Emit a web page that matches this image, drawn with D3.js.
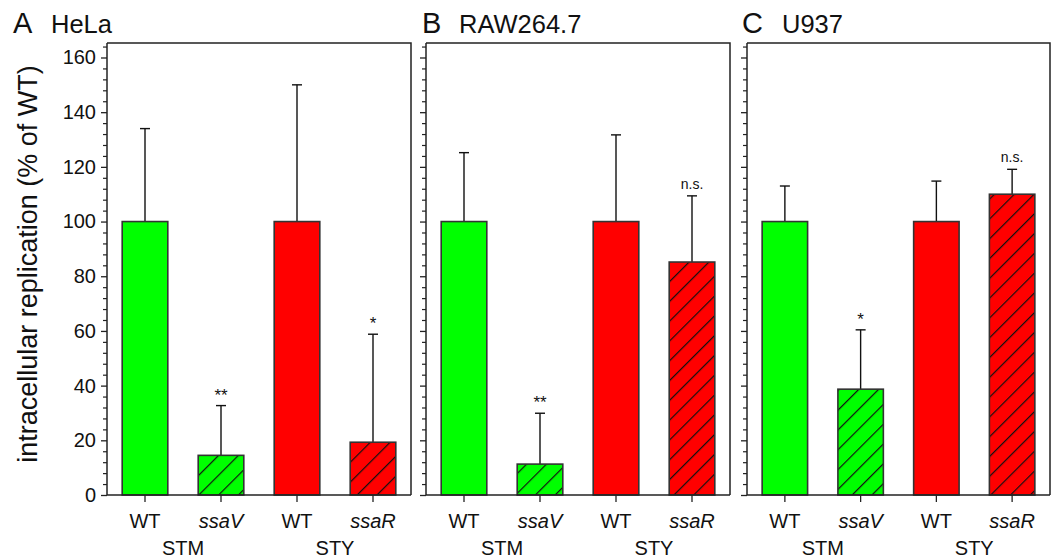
<!DOCTYPE html>
<html>
<head>
<meta charset="utf-8">
<script src="https://cdn.jsdelivr.net/npm/d3@7"></script>
<style>
  html, body { margin: 0; padding: 0; background: #fff; }
  svg { display: block; font-family: "Liberation Sans", Arial, sans-serif; }
</style>
</head>
<body>
<svg id="chart" width="1052" height="560"></svg>
<script>
// ---- data ----
const panelLetters = ["A", "B", "C"];
const panelNames = ["HeLa", "RAW264.7", "U937"];
const categories = ["WT", "ssaV", "WT", "ssaR"];
const italicCats = [false, true, false, true];
const hatched = [false, true, false, true];
const strains = ["STM", "STY"];
const barColors = ["#00ff00", "#00ff00", "#ff0000", "#ff0000"];
const helaMeans = [100, 14.5, 100, 19.3];
const helaErr = [34, 18.2, 50, 39.5];
const rawMeans = [100, 11.3, 100, 85.2];
const rawErr = [25.2, 18.6, 31.7, 24.2];
const u937Means = [100, 38.7, 100, 110];
const u937Err = [13, 21.7, 14.8, 9.1];
const helaSig = ["", "**", "", "*"];
const rawSig = ["", "**", "", "n.s."];
const u937Sig = ["", "*", "", "n.s."];
const yTicks = [0, 20, 40, 60, 80, 100, 120, 140, 160];
const yLabel = "intracellular replication (% of WT)";

const panelMeans = [helaMeans, rawMeans, u937Means];
const panelErrs = [helaErr, rawErr, u937Err];
const panelSigs = [helaSig, rawSig, u937Sig];

// ---- layout ----
const svg = d3.select("#chart");
const plotTop = 43, plotBottom = 495;
const panelX = [[107, 411], [426, 730], [747, 1050]];

const defs = svg.append("defs");
[["hatchGreen", "#00ff00"], ["hatchRed", "#ff0000"]].forEach(([id, col]) => {
  const p = defs.append("pattern")
    .attr("id", id)
    .attr("patternUnits", "userSpaceOnUse")
    .attr("width", 14).attr("height", 14)
    .attr("patternTransform", "rotate(45)");
  p.append("rect").attr("width", 14).attr("height", 14).attr("fill", col);
  p.append("line").attr("x1", 0).attr("y1", 0).attr("x2", 0).attr("y2", 14)
    .attr("stroke", "#111").attr("stroke-width", 2.4);
});

const y = d3.scaleLinear().domain([0, 165.3]).range([plotBottom, plotTop]);
const minorTicks = d3.range(0, 165, 4).filter(v => v % 20 !== 0);

panelLetters.forEach((letter, pi) => {
  const [x0, x1] = panelX[pi];
  const x = d3.scaleBand().domain(d3.range(categories.length))
    .range([x0, x1]).paddingInner(0.4).paddingOuter(0.2);
  const g = svg.append("g");
  const means = panelMeans[pi], errs = panelErrs[pi], sigs = panelSigs[pi];

  // error bars (drawn behind bars)
  const eb = g.append("g").attr("stroke", "#111").attr("stroke-width", 1.4);
  means.forEach((m, i) => {
    const cx = x(i) + x.bandwidth() / 2;
    eb.append("line").attr("x1", cx).attr("x2", cx)
      .attr("y1", y(m)).attr("y2", y(m + errs[i]));
    eb.append("line").attr("x1", cx - 5).attr("x2", cx + 5)
      .attr("y1", y(m + errs[i])).attr("y2", y(m + errs[i]));
  });

  // bars
  g.selectAll("rect.bar").data(means).join("rect")
    .attr("class", "bar")
    .attr("x", (d, i) => x(i))
    .attr("width", x.bandwidth())
    .attr("y", d => y(d))
    .attr("height", d => y(0) - y(d))
    .attr("fill", (d, i) => hatched[i]
      ? (barColors[i] === "#00ff00" ? "url(#hatchGreen)" : "url(#hatchRed)")
      : barColors[i])
    .attr("stroke", "#333")
    .attr("stroke-width", 1.6);

  // significance labels
  sigs.forEach((s, i) => {
    if (!s) return;
    const cx = x(i) + x.bandwidth() / 2;
    g.append("text")
      .attr("x", cx)
      .attr("y", y(means[i] + errs[i]) - (s === "n.s." ? 7 : 5))
      .attr("text-anchor", "middle")
      .attr("font-size", s === "n.s." ? 14 : 17)
      .attr("fill", "#111")
      .text(s);
  });

  // frame (top & right)
  g.append("path")
    .attr("d", `M${x0},${plotTop}H${x1}V${plotBottom}`)
    .attr("fill", "none").attr("stroke", "#222").attr("stroke-width", 1.5);

  // y axis
  const yAxis = d3.axisLeft(y).tickValues(yTicks).tickSize(6).tickPadding(5)
    .tickFormat(pi === 0 ? d3.format("d") : () => "");
  const ya = g.append("g").attr("transform", `translate(${x0},0)`).call(yAxis);
  ya.select(".domain").attr("d", `M0,${plotTop}V${plotBottom}`).attr("stroke", "#222").attr("stroke-width", 1.5);
  ya.selectAll(".tick line").attr("stroke", "#222").attr("stroke-width", 1.3);
  ya.selectAll(".tick text").attr("font-size", 20).attr("fill", "#111")
    .attr("font-family", "Liberation Sans, Arial, sans-serif");
  const yMinor = d3.axisLeft(y).tickValues(minorTicks).tickSize(4).tickFormat(() => "");
  const ym = g.append("g").attr("transform", `translate(${x0},0)`).call(yMinor);
  ym.select(".domain").remove();
  ym.selectAll(".tick line").attr("stroke", "#222").attr("stroke-width", 1.2);

  // x axis
  const xAxis = d3.axisBottom(x).tickSize(7).tickFormat(() => "");
  const xa = g.append("g").attr("transform", `translate(0,${plotBottom})`).call(xAxis);
  xa.select(".domain").attr("d", `M${x0},0H${x1}`).attr("stroke", "#222").attr("stroke-width", 1.5);
  xa.selectAll(".tick line").attr("stroke", "#222").attr("stroke-width", 1.3);

  // category labels
  categories.forEach((c, i) => {
    g.append("text")
      .attr("x", x(i) + x.bandwidth() / 2)
      .attr("y", 528)
      .attr("text-anchor", "middle")
      .attr("font-size", 20)
      .attr("font-style", italicCats[i] ? "italic" : "normal")
      .attr("fill", "#111")
      .text(c);
  });
  strains.forEach((s, k) => {
    const cx = (x(2 * k) + x(2 * k + 1) + x.bandwidth()) / 2;
    g.append("text")
      .attr("x", cx).attr("y", 555)
      .attr("text-anchor", "middle")
      .attr("font-size", 20)
      .attr("fill", "#111")
      .text(s);
  });

  // panel title
  const tx = [13, 422, 742][pi];
  const nx = [51, 459, 782][pi];
  svg.append("text").attr("x", tx).attr("y", 33)
    .attr("font-size", 29).attr("fill", "#111").text(letter);
  svg.append("text").attr("x", nx).attr("y", 33)
    .attr("font-size", 25.5).attr("fill", "#111").text(panelNames[pi]);
});

// y label
svg.append("text")
  .attr("transform", `translate(37,264) rotate(-90)`)
  .attr("text-anchor", "middle")
  .attr("font-size", 27)
  .attr("fill", "#111")
  .text(yLabel);
</script>
</body>
</html>
